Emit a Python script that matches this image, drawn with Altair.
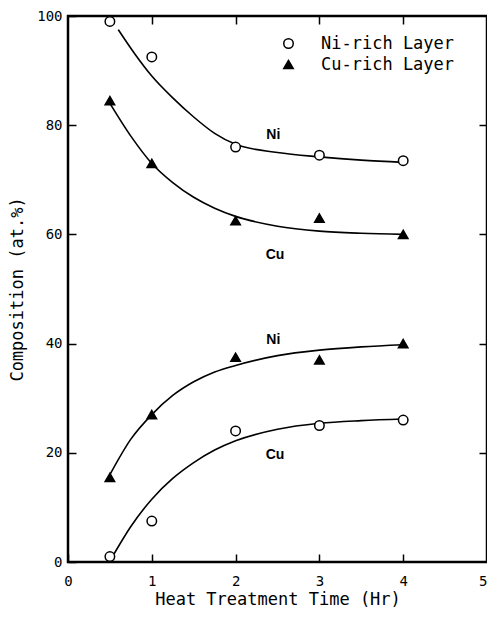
import altair as alt
import pandas as pd

# ---- measured points ----
time = [0.5, 1, 2, 3, 4]
ni_layer_ni = [99, 92.5, 76, 74.5, 73.5]   # Ni in Ni-rich layer (circles)
ni_layer_cu = [1, 7.5, 24, 25, 26]         # Cu in Ni-rich layer (circles)
cu_layer_cu = [84.5, 73, 62.5, 63, 60]     # Cu in Cu-rich layer (triangles)
cu_layer_ni = [15.5, 27, 37.5, 37, 40]     # Ni in Cu-rich layer (triangles)

# ---- fitted curves ----
c_ni_top_x = [0.6, 0.8, 1.0, 1.25, 1.5, 1.75, 2.0, 2.5, 3.0, 3.5, 4.0]
c_ni_top_y = [97.5, 93, 89, 85, 81.5, 78.5, 76.5, 75, 74.2, 73.6, 73.2]
c_cu_top_x = [0.5, 0.75, 1.0, 1.25, 1.5, 1.75, 2.0, 2.5, 3.0, 3.5, 4.0]
c_cu_top_y = [84, 78, 73, 69.5, 66.8, 64.8, 63.3, 61.5, 60.6, 60.2, 60]
c_ni_bot_x = [0.5, 0.75, 1.0, 1.25, 1.5, 1.75, 2.0, 2.5, 3.0, 3.5, 4.0]
c_ni_bot_y = [16, 22.5, 27, 30.5, 33, 34.8, 36, 37.8, 38.8, 39.4, 39.8]
c_cu_bot_x = [0.55, 0.75, 1.0, 1.25, 1.5, 1.75, 2.0, 2.5, 3.0, 3.5, 4.0]
c_cu_bot_y = [1.5, 6.5, 11.5, 15.3, 18.2, 20.5, 22.2, 24.3, 25.4, 25.9, 26.2]

# ---- curve labels ----
lab_text = ["Ni", "Cu", "Ni", "Cu"]
lab_x = [2.45, 2.47, 2.45, 2.47]
lab_y = [78.2, 56.2, 40.7, 19.6]

legend_names = ["Ni-rich Layer", "Cu-rich Layer"]

pts = []
for t, v in zip(time, ni_layer_ni):
    pts.append({"t": t, "v": v, "layer": legend_names[0]})
for t, v in zip(time, ni_layer_cu):
    pts.append({"t": t, "v": v, "layer": legend_names[0]})
for t, v in zip(time, cu_layer_cu):
    pts.append({"t": t, "v": v, "layer": legend_names[1]})
for t, v in zip(time, cu_layer_ni):
    pts.append({"t": t, "v": v, "layer": legend_names[1]})
pts = pd.DataFrame(pts)

curves = []
for name, xs_, ys_ in [("ni_top", c_ni_top_x, c_ni_top_y), ("cu_top", c_cu_top_x, c_cu_top_y),
                       ("ni_bot", c_ni_bot_x, c_ni_bot_y), ("cu_bot", c_cu_bot_x, c_cu_bot_y)]:
    for i, (x, y) in enumerate(zip(xs_, ys_)):
        curves.append({"curve": name, "t": x, "v": y, "i": i})
curves = pd.DataFrame(curves)

labs = pd.DataFrame({"text": lab_text, "t": lab_x, "v": lab_y})

MONO = "DejaVu Sans Mono"
xs = alt.Scale(domain=[0, 5], nice=False)
ys = alt.Scale(domain=[0, 100], nice=False)

common_ax = dict(domain=False, grid=False, tickColor="black", tickWidth=1.5,
                 tickSize=8, offset=-8, labelColor="black", titleColor="black")

x_bottom = alt.Axis(orient="bottom", values=[0, 1, 2, 3, 4, 5], title="Heat Treatment Time (Hr)",
                    labelFont=MONO, labelFontSize=14, labelPadding=12, labelFlush=False,
                    labelAlign={"condition": {"test": "datum.value == 5", "value": "right"},
                                "value": "center"},
                    titleFont=MONO, titleFontSize=17, titleFontWeight="normal", titlePadding=3,
                    **common_ax)
y_left = alt.Axis(orient="left", values=[0, 20, 40, 60, 80, 100], title="Composition (at.%)",
                  labelFont=MONO, labelFontSize=14, labelPadding=6, labelFlush=False,
                  titleFont=MONO, titleFontSize=17, titleFontWeight="normal", titlePadding=10,
                  **common_ax)
x_top = alt.Axis(orient="top", values=[1, 2, 3, 4], labels=False, title=None, **common_ax)
y_right = alt.Axis(orient="right", values=[20, 40, 60, 80], labels=False, title=None, **common_ax)

leg = dict(title=None, orient="none", legendX=212, legendY=19,
           labelFont=MONO, labelFontSize=17, labelColor="black",
           symbolSize=90, symbolStrokeWidth=1.5,
           labelOffset=24, rowPadding=3, padding=0)

lines = alt.Chart(curves).mark_line(color="black", strokeWidth=1.6, interpolate="monotone").encode(
    x=alt.X("t:Q", scale=xs, axis=x_bottom),
    y=alt.Y("v:Q", scale=ys, axis=y_left),
    detail="curve:N",
    order="i:Q",
)

points = alt.Chart(pts).mark_point(filled=True, strokeWidth=1.5, opacity=1).encode(
    x=alt.X("t:Q", scale=xs, axis=x_top),
    y=alt.Y("v:Q", scale=ys, axis=y_right),
    shape=alt.Shape("layer:N", scale=alt.Scale(domain=legend_names, range=["circle", "triangle-up"]),
                    legend=alt.Legend(**leg)),
    fill=alt.Fill("layer:N", scale=alt.Scale(domain=legend_names, range=["white", "black"]),
                  legend=alt.Legend(**leg)),
    stroke=alt.Stroke("layer:N", scale=alt.Scale(domain=legend_names, range=["black", "black"]),
                      legend=alt.Legend(**leg)),
    size=alt.value(90),
)

labels = alt.Chart(labs).mark_text(font="Liberation Sans", fontSize=14, fontWeight="bold",
                                    color="black").encode(
    x=alt.X("t:Q", scale=xs, axis=None),
    y=alt.Y("v:Q", scale=ys, axis=None),
    text="text:N",
)

chart = alt.layer(lines, points, labels).resolve_axis(x="independent", y="independent").properties(
    width=419, height=546,
    autosize=alt.AutoSizeParams(type="none"),
    padding={"left": 60, "top": 8, "right": 0, "bottom": 46},
).configure_view(stroke="black", strokeWidth=2.5)

chart.save("out.html", embed_options={"renderer": "svg", "actions": False})
